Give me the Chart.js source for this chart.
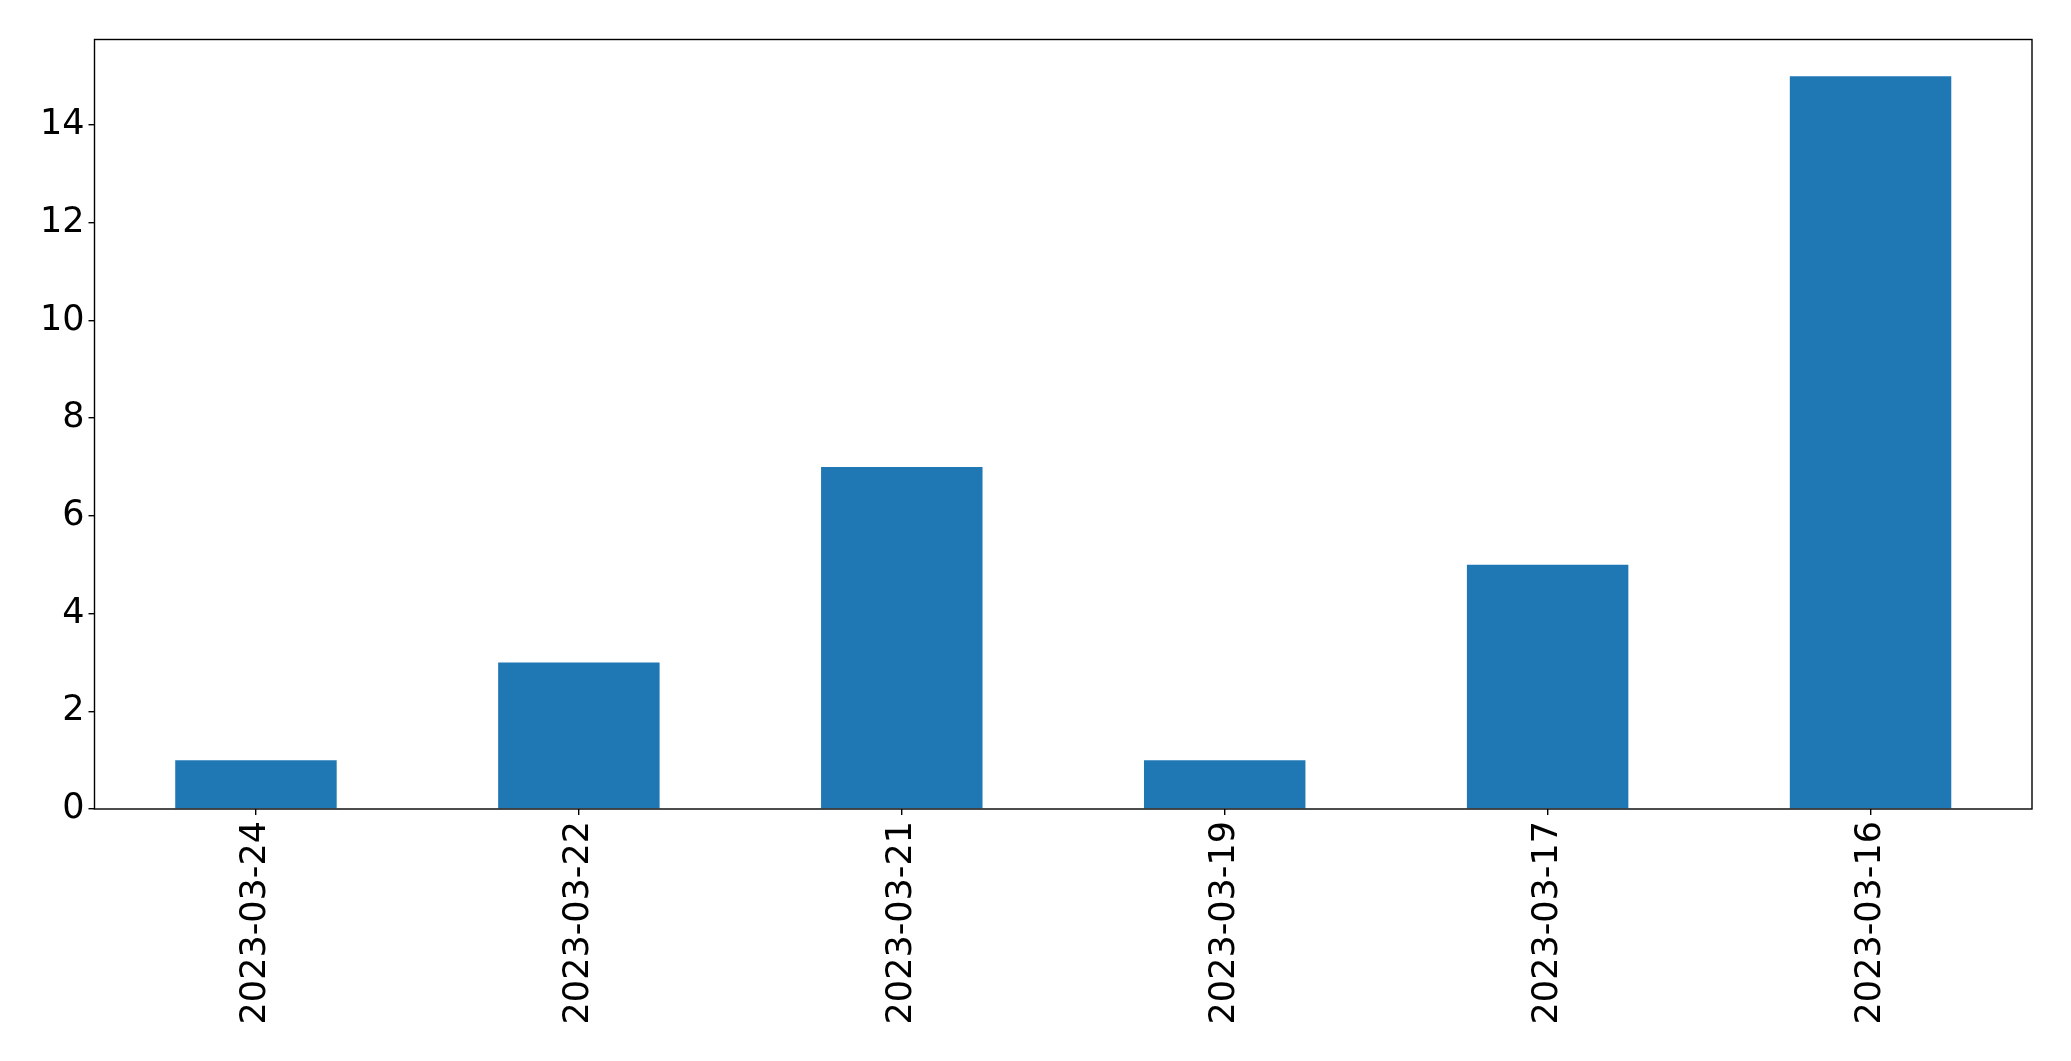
<!DOCTYPE html>
<html>
<head>
<meta charset="utf-8">
<script src="https://cdn.jsdelivr.net/npm/chart.js@4/dist/chart.umd.min.js"></script>
<style>
html,body{margin:0;padding:0;background:#fff;}
canvas{display:block;}
</style>
</head>
<body>
<canvas id="c" width="2071" height="1061"></canvas>
<script>
const categories = ["2023-03-24","2023-03-22","2023-03-21","2023-03-19","2023-03-17","2023-03-16"];
const counts = [1,3,7,1,5,15];
const yTickValues = [0,2,4,6,8,10,12,14];
const yMax = 15.75;

const frame = {
  id: 'frame',
  afterDraw(chart){
    const a = chart.chartArea, ctx = chart.ctx;
    ctx.save();
    ctx.strokeStyle = '#000';
    ctx.lineWidth = 1.4;
    ctx.strokeRect(a.left, a.top, a.right - a.left, a.bottom - a.top);
    ctx.restore();
  }
};

new Chart(document.getElementById('c'), {
  type: 'bar',
  data: {
    labels: categories,
    datasets: [{
      data: counts,
      backgroundColor: '#1f77b4',
      borderWidth: 0,
      barPercentage: 0.5,
      categoryPercentage: 1.0
    }]
  },
  options: {
    responsive: false,
    animation: false,
    devicePixelRatio: 1,
    layout: { padding: { top: 39.5, right: 39, left: 0, bottom: 0 } },
    plugins: { legend: { display: false }, tooltip: { enabled: false } },
    scales: {
      x: {
        offset: true,
        grid: { display: true, drawOnChartArea: false, drawTicks: true, tickLength: 6, color: '#000', lineWidth: 1.4, offset: false },
        border: { display: false },
        ticks: {
          color: '#000', font: { family: 'DejaVu Sans', size: 35 },
          minRotation: 90, maxRotation: 90, padding: 6, autoSkip: false
        },
        afterFit(s){ s.height = 1061 - 809; }
      },
      y: {
        min: 0, max: yMax,
        grid: { display: true, drawOnChartArea: false, drawTicks: true, tickLength: 6, color: '#000', lineWidth: 1.4 },
        border: { display: false },
        ticks: { color: '#000', font: { family: 'DejaVu Sans', size: 35 }, padding: 4 },
        afterBuildTicks(s){ s.ticks = yTickValues.map(v => ({ value: v })); },
        afterFit(s){ s.width = 94.5; }
      }
    }
  },
  plugins: [frame]
});
</script>
</body>
</html>
